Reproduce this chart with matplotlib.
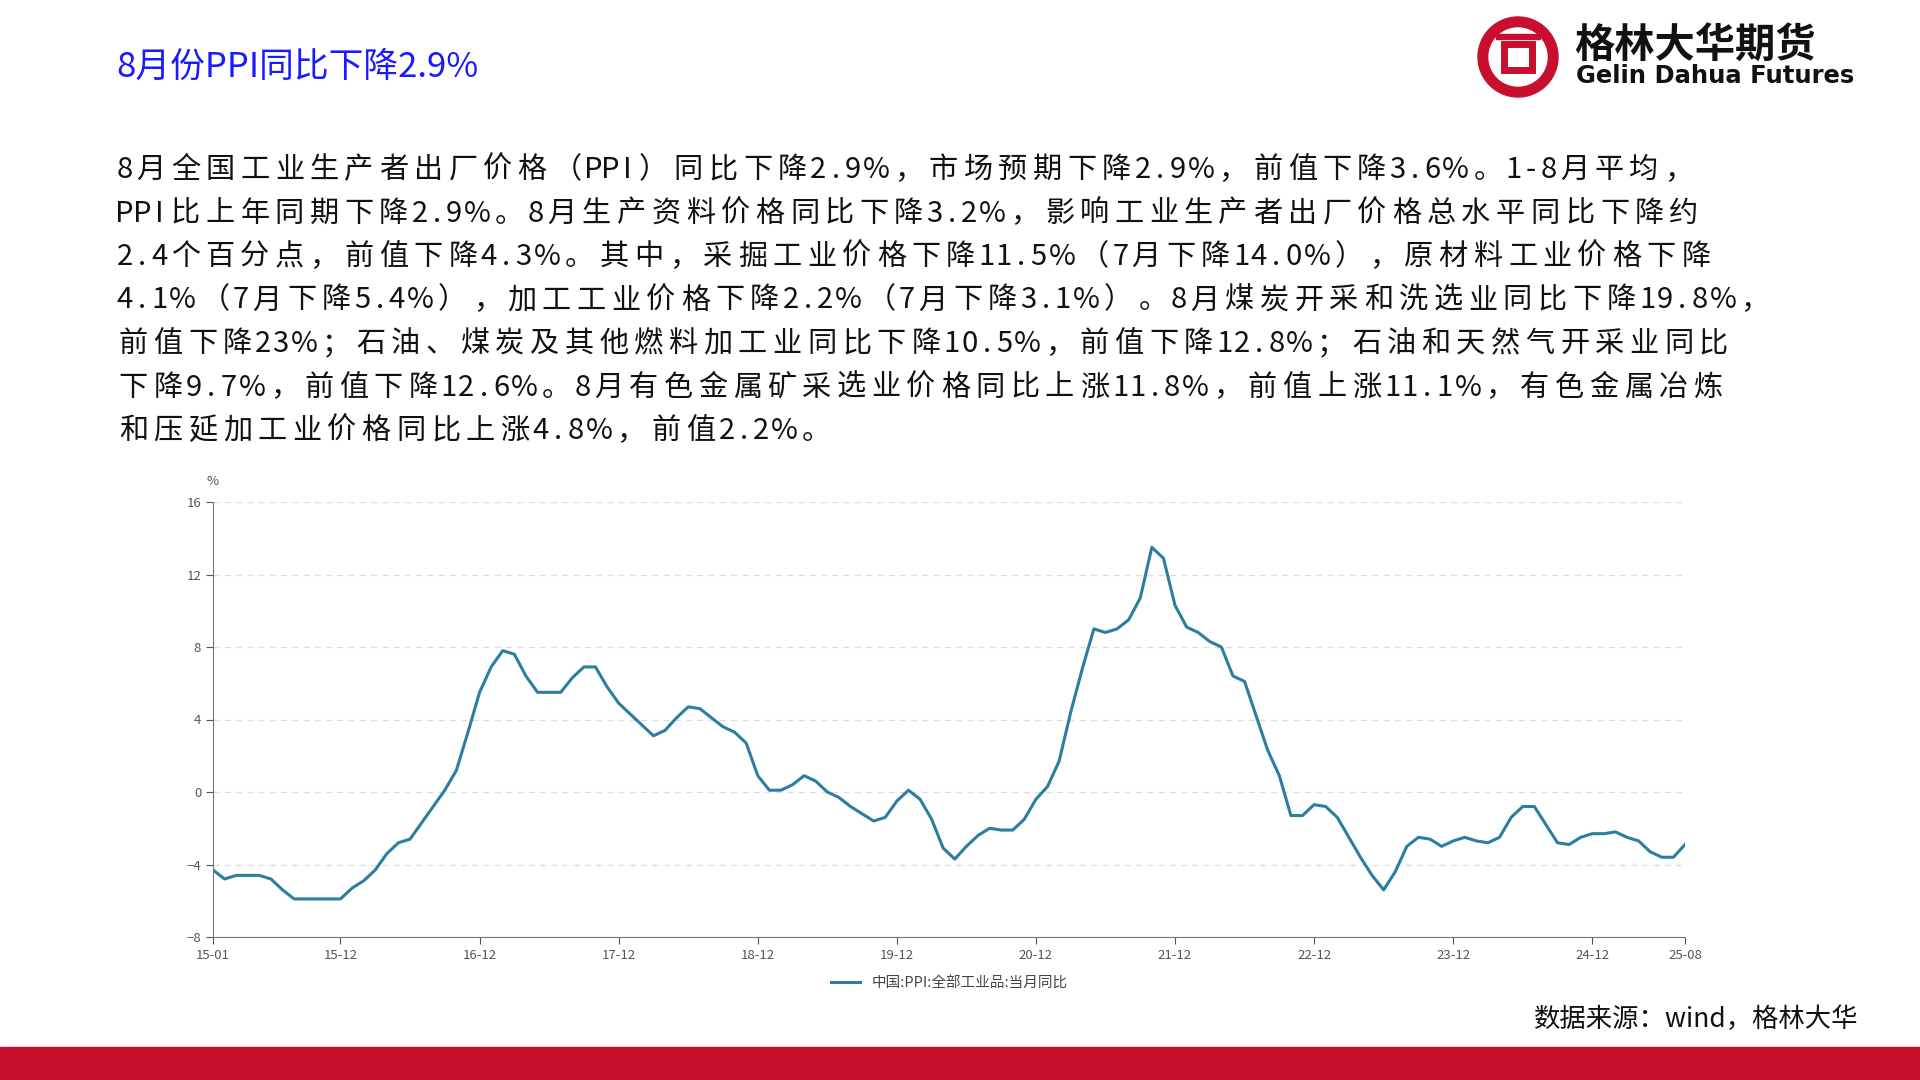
import unicodedata
import matplotlib.pyplot as plt
from matplotlib.patches import Circle, Rectangle

plt.rcParams['font.family'] = ['Noto Sans CJK SC', 'DejaVu Sans']

# PPI YoY, 2015-01 .. 2025-08
ppi = [
    -4.3, -4.8, -4.6, -4.6, -4.6, -4.8, -5.4, -5.9, -5.9, -5.9, -5.9, -5.9,
    -5.3, -4.9, -4.3, -3.4, -2.8, -2.6, -1.7, -0.8, 0.1, 1.2, 3.3, 5.5,
    6.9, 7.8, 7.6, 6.4, 5.5, 5.5, 5.5, 6.3, 6.9, 6.9, 5.8, 4.9,
    4.3, 3.7, 3.1, 3.4, 4.1, 4.7, 4.6, 4.1, 3.6, 3.3, 2.7, 0.9,
    0.1, 0.1, 0.4, 0.9, 0.6, 0.0, -0.3, -0.8, -1.2, -1.6, -1.4, -0.5,
    0.1, -0.4, -1.5, -3.1, -3.7, -3.0, -2.4, -2.0, -2.1, -2.1, -1.5, -0.4,
    0.3, 1.7, 4.4, 6.8, 9.0, 8.8, 9.0, 9.5, 10.7, 13.5, 12.9, 10.3,
    9.1, 8.8, 8.3, 8.0, 6.4, 6.1, 4.2, 2.3, 0.9, -1.3, -1.3, -0.7,
    -0.8, -1.4, -2.5, -3.6, -4.6, -5.4, -4.4, -3.0, -2.5, -2.6, -3.0, -2.7,
    -2.5, -2.7, -2.8, -2.5, -1.4, -0.8, -0.8, -1.8, -2.8, -2.9, -2.5, -2.3,
    -2.3, -2.2, -2.5, -2.7, -3.3, -3.6, -3.6, -2.9,
]
tick_pos = [0, 11, 23, 35, 47, 59, 71, 83, 95, 107, 119, 127]
tick_labels = ["15-01", "15-12", "16-12", "17-12", "18-12", "19-12", "20-12",
               "21-12", "22-12", "23-12", "24-12", "25-08"]

title = "8月份PPI同比下降2.9%"
body = [
    "8月全国工业生产者出厂价格（PPI）同比下降2.9%，市场预期下降2.9%，前值下降3.6%。1-8月平均，",
    "PPI比上年同期下降2.9%。8月生产资料价格同比下降3.2%，影响工业生产者出厂价格总水平同比下降约",
    "2.4个百分点，前值下降4.3%。其中，采掘工业价格下降11.5%（7月下降14.0%），原材料工业价格下降",
    "4.1%（7月下降5.4%），加工工业价格下降2.2%（7月下降3.1%）。8月煤炭开采和洗选业同比下降19.8%，",
    "前值下降23%；石油、煤炭及其他燃料加工业同比下降10.5%，前值下降12.8%；石油和天然气开采业同比",
    "下降9.7%，前值下降12.6%。8月有色金属矿采选业价格同比上涨11.8%，前值上涨11.1%，有色金属冶炼",
    "和压延加工业价格同比上涨4.8%，前值2.2%。",
]

fig = plt.figure(figsize=(19.2, 10.8), dpi=100)
red = "#c8102e"

bg = fig.add_axes([0, 0, 1, 1], zorder=-1)
bg.set_xlim(0, 1920)
bg.set_ylim(1080, 0)
bg.axis("off")

bg.text(116, 67, title, color="#1a1aff", fontsize=25, va="center")


def units(ch):
    if ch == "%":
        return 0.85
    return 1.0 if unicodedata.east_asian_width(ch) in "WF" else 0.5


# body text set on a fixed pitch, like the wide song-style font of the original
pitch = (1696 - 116) / sum(units(c) for c in body[0])
for i, line in enumerate(body):
    x = 116
    y = 170 + i * 43.5
    for ch in line:
        w = units(ch) * pitch
        bg.text(x + w / 2, y, ch, fontsize=21, ha="center", va="center", color="#111111")
        x += w

# logo
bg.add_patch(Circle((1518, 57), 40, color=red))
bg.add_patch(Circle((1518, 57), 29, color="white"))
bg.add_patch(Rectangle((1504, 44), 28, 26, fill=False, ec=red, lw=5))
bg.add_patch(Rectangle((1496, 34), 44, 5, color=red))
bg.text(1574, 45, "格林大华期货", fontsize=29, fontweight="bold", va="center", color="#111111")
bg.text(1576, 76, "Gelin Dahua Futures", fontsize=17.5, fontweight="bold", va="center",
        color="#111111", family="DejaVu Sans")
bg.add_patch(Rectangle((0, 1047), 1920, 33, color=red))
bg.text(1858, 1019, "数据来源：wind，格林大华", fontsize=19, ha="right", va="center",
        color="#111111")

# chart
ax = fig.add_axes([213 / 1920, 1 - 937 / 1080, (1685 - 213) / 1920, (937 - 502) / 1080])
ax.plot(range(len(ppi)), ppi, color="#2b7ea1", lw=2.2, label="中国:PPI:全部工业品:当月同比")
ax.set_xlim(0, len(ppi) - 1)
ax.set_ylim(-8, 16)
ax.set_yticks(range(-8, 17, 4))
ax.set_xticks(tick_pos)
ax.set_xticklabels(tick_labels)
ax.tick_params(colors="#555555", labelsize=9.5, length=5)
ax.grid(axis="y", ls=(0, (5, 4)), color="#dddddd", lw=0.9)
for s in ["top", "right"]:
    ax.spines[s].set_visible(False)
for s in ["left", "bottom"]:
    ax.spines[s].set_color("#777777")
ax.text(0.0, 1.04, "%", transform=ax.transAxes, fontsize=9.5, color="#555555", ha="center")
ax.legend(loc="upper center", bbox_to_anchor=(0.5, -0.06), frameon=False, fontsize=10.5,
          handlelength=2, labelcolor="#444444")

fig.savefig("out.png", dpi=100)
